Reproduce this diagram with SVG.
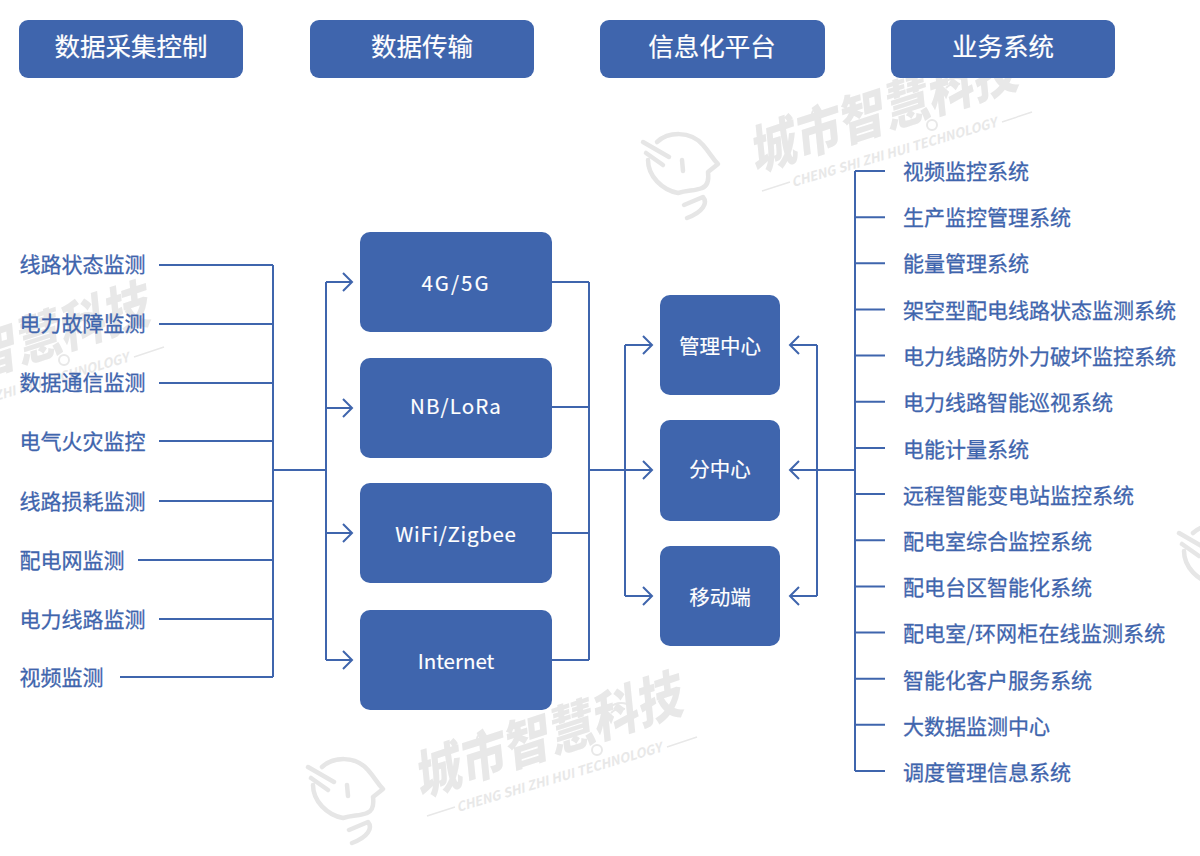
<svg xmlns="http://www.w3.org/2000/svg" width="1200" height="856" viewBox="0 0 1200 856">
<style>
text{font-family:"Noto Sans CJK SC","Noto Sans",sans-serif}
.h{fill:#3f65ad}
.ht{fill:#fff;font-size:25.5px;text-anchor:middle;stroke:#fff;stroke-width:.2}
.bt{fill:#fff;font-size:20.5px;text-anchor:middle;stroke:#fff;stroke-width:.15}
.lb{fill:#3f65ad;font-size:21px;stroke:#3f65ad;stroke-width:.3}
.c{fill:none;stroke:#3f65ad;stroke-width:2}
.wt{fill:#e8e8e8;font-size:46px;font-weight:900;font-style:italic;letter-spacing:.5px}
.ws{fill:#e8e8e8;font-size:13px;font-weight:700;font-style:italic}
.wl{fill:none;stroke:#e8e8e8;stroke-width:1.5}
.wh{fill:none;stroke:#e6e6e6;stroke-width:4.5;stroke-linecap:round;stroke-linejoin:round}
.wa{fill:none;stroke:#e8e8e8;stroke-width:2}
</style>
<defs>
<g id="mark">
<text class="wt" transform="translate(755 172) rotate(-18) scale(1 1.15)">城市智慧科技</text>
<text class="ws" transform="translate(793 187) rotate(-16.500)">CHENG SHI ZHI HUI TECHNOLOGY</text>
<path class="wl" d="M762 191L790 182M1002 122L1032 112"/>
<circle class="wa" cx="817" cy="114" r="5"/>
<circle class="wa" cx="932" cy="125" r="5"/>
<path class="wa" d="M946 88Q952 82 960 84M944 83Q952 76 962 79"/>
<path class="wh" d="M657 142C668 132 690 130 703 145C710 153 712 158 718 164L708 172C709 180 708 186 702 188C695 191 688 190 678 193C662 190 648 176 648 160M682 160L683 171M643 142L669 157M646 153L663 165M684 205L703 197C708 203 703 212 687 218"/>
</g>
</defs>
<g id="watermarks">
<use href="#mark"/>
<use href="#mark" x="-335" y="625"/>
<use href="#mark" x="-868" y="235"/>
<use href="#mark" x="536" y="391"/>
</g>
<g id="connectors">
<path class="c" d="M159 265H273M159 324H273M159 383H273M159 441H273M159 501H273M138 560H273M159 619H273M120 677H273M273 265V677M273 470H326M326 282V660M326 282H352M326 408H352M326 533H352M326 660H352"/>
<path class="c" d="M343 273L352 282L343 291M343 399L352 408L343 417M343 524L352 533L343 542M343 651L352 660L343 669"/>
<path class="c" d="M552 282H589M552 407H589M552 533H589M552 660H589M589 282V660M589 470H652M625 345V596M625 345H652M625 596H652"/>
<path class="c" d="M643 336L652 345L643 354M643 461L652 470L643 479M643 587L652 596L643 605"/>
<path class="c" d="M855 171V771M855 171H885M855 217.200H885M855 263.300H885M855 309.500H885M855 355.600H885M855 401.800H885M855 447.900H885M855 494.100H885M855 540.200H885M855 586.400H885M855 632.500H885M855 678.700H885M855 724.800H885M855 771H885M855 470H790M817 345V596M817 345H790M817 596H790"/>
<path class="c" d="M799 336L790 345L799 354M799 461L790 470L799 479M799 587L790 596L799 605"/>
</g>
<g id="header-1"><rect class="h" x="19" y="20" width="224" height="58" rx="9"/><text class="ht" x="131" y="56">数据采集控制</text></g>
<g id="header-2"><rect class="h" x="310" y="20" width="224" height="58" rx="9"/><text class="ht" x="422" y="56">数据传输</text></g>
<g id="header-3"><rect class="h" x="600" y="20" width="225" height="58" rx="9"/><text class="ht" x="712" y="56">信息化平台</text></g>
<g id="header-4"><rect class="h" x="891" y="20" width="224" height="58" rx="9"/><text class="ht" x="1003" y="56">业务系统</text></g>
<g id="net-1"><rect class="h" x="360" y="232" width="192" height="100" rx="10"/><text class="bt" x="456" y="291" style="letter-spacing:2px">4G/5G</text></g>
<g id="net-2"><rect class="h" x="360" y="358" width="192" height="100" rx="10"/><text class="bt" x="456" y="414" style="letter-spacing:1.100px">NB/LoRa</text></g>
<g id="net-3"><rect class="h" x="360" y="483" width="192" height="100" rx="10"/><text class="bt" x="456" y="542" style="letter-spacing:.7px">WiFi/Zigbee</text></g>
<g id="net-4"><rect class="h" x="360" y="610" width="192" height="100" rx="10"/><text class="bt" x="456" y="669">Internet</text></g>
<g id="center-1"><rect class="h" x="660" y="295" width="120" height="100" rx="10"/><text class="bt" x="720" y="354">管理中心</text></g>
<g id="center-2"><rect class="h" x="660" y="420" width="120" height="101" rx="10"/><text class="bt" x="720" y="477">分中心</text></g>
<g id="center-3"><rect class="h" x="660" y="546" width="120" height="100" rx="10"/><text class="bt" x="720" y="605">移动端</text></g>
<g id="sources">
<text class="lb" x="19.500" y="272">线路状态监测</text>
<text class="lb" x="19.500" y="331">电力故障监测</text>
<text class="lb" x="19.500" y="390">数据通信监测</text>
<text class="lb" x="19.500" y="449">电气火灾监控</text>
<text class="lb" x="19.500" y="509">线路损耗监测</text>
<text class="lb" x="19.500" y="568">配电网监测</text>
<text class="lb" x="19.500" y="627">电力线路监测</text>
<text class="lb" x="19.500" y="685">视频监测</text>
</g>
<g id="systems">
<text class="lb" x="903" y="179">视频监控系统</text>
<text class="lb" x="903" y="225">生产监控管理系统</text>
<text class="lb" x="903" y="271">能量管理系统</text>
<text class="lb" x="903" y="318">架空型配电线路状态监测系统</text>
<text class="lb" x="903" y="364">电力线路防外力破坏监控系统</text>
<text class="lb" x="903" y="410">电力线路智能巡视系统</text>
<text class="lb" x="903" y="457">电能计量系统</text>
<text class="lb" x="903" y="503">远程智能变电站监控系统</text>
<text class="lb" x="903" y="549">配电室综合监控系统</text>
<text class="lb" x="903" y="595">配电台区智能化系统</text>
<text class="lb" x="903" y="641" style="letter-spacing:.17px">配电室/环网柜在线监测系统</text>
<text class="lb" x="903" y="688">智能化客户服务系统</text>
<text class="lb" x="903" y="734">大数据监测中心</text>
<text class="lb" x="903" y="780">调度管理信息系统</text>
</g>
</svg>
